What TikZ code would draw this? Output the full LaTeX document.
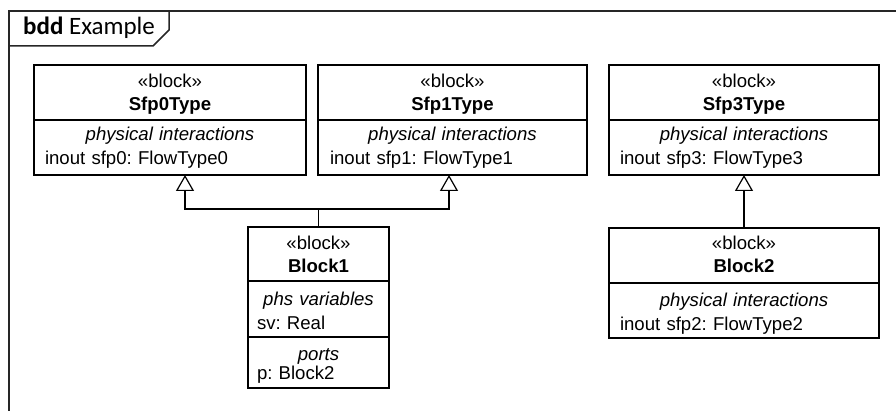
\documentclass[tikz,border=0pt]{standalone}
\usepackage{fontspec}
\setmainfont{Liberation Sans}
\newfontfamily\framefont{Carlito}
\usetikzlibrary{positioning,arrows.meta}
\frenchspacing

\begin{document}
\begin{tikzpicture}[x=1pt,y=1pt,
  part/.style={draw, line width=1.2pt, fill=white, inner ysep=0pt, outer sep=0pt},
  head/.style={part, align=center, minimum width=#1, text height=46pt, text depth=9pt,
    font=\fontsize{18.6}{23}\selectfont},
  comp/.style={part, align=left, text width=#1, inner xsep=11pt, text height=21pt, text depth=34pt,
    font=\fontsize{18.6}{24}\selectfont},
  gen/.style={line width=1.2pt, -{Triangle[open, width=18pt, length=16pt]}},
  frame/.style={line width=1.5pt, draw=black!85}]
\useasboundingbox (0,0) rectangle (896,411);
% diagram frame
\draw[frame] (9,0) -- (9,400) -- (896,400);
\draw[frame] (9,365) -- (153,365) -- (169,381) -- (169,400);
\node[anchor=base west, inner sep=0pt, font=\framefont\fontsize{25}{29}\selectfont] (title) at (23,376) {\textbf{bdd} Example};

% upper row
\node[head=272pt, anchor=north west] (s0h) at (34,346) {«block»\\\textbf{Sfp0Type}};
\node[comp=250pt, below=0pt of s0h] (s0c) {{\centering\itshape physical interactions\par}inout sfp0: FlowType0};
\node[head=269pt, right=12pt of s0h] (s1h) {«block»\\\textbf{Sfp1Type}};
\node[comp=245pt, inner xsep=12pt, below=0pt of s1h] (s1c) {{\centering\itshape physical interactions\par}inout sfp1: FlowType1};
\node[head=270pt, right=22pt of s1h] (s3h) {«block»\\\textbf{Sfp3Type}};
\node[comp=248pt, below=0pt of s3h] (s3c) {{\centering\itshape physical interactions\par}inout sfp3: FlowType3};

% lower row
\node[head=141pt, anchor=north west, text height=46pt, text depth=8pt] (b1h) at (248,184) {«block»\\\textbf{Block1}};
\node[comp=123pt, inner xsep=9pt, text height=25pt, text depth=31pt, below=0pt of b1h] (b1v) {{\centering\itshape phs variables\par}sv: Real};
\node[comp=123pt, inner xsep=9pt, text height=24pt, text depth=27pt, font=\fontsize{18.6}{19}\selectfont, below=0pt of b1v] (b1p) {{\centering\itshape ports\par}p: Block2};
\node[head=270pt, anchor=north west, text height=45pt, text depth=10pt] (b2h) at (609,183) {«block»\\\textbf{Block2}};
\node[comp=248pt, text height=24pt, text depth=31pt, below=0pt of b2h] (b2c) {{\centering\itshape physical interactions\par}inout sfp2: FlowType2};

% generalizations
\draw[gen] (b1h.north) -- ++(0,18) -| ([xshift=15pt]s0c.south);
\draw[gen] (b1h.north) -- ++(0,18) -| ([xshift=-3.5pt]s1c.south);
\draw[gen] (b2h.north) -- (s3c.south);
\end{tikzpicture}
\end{document}
